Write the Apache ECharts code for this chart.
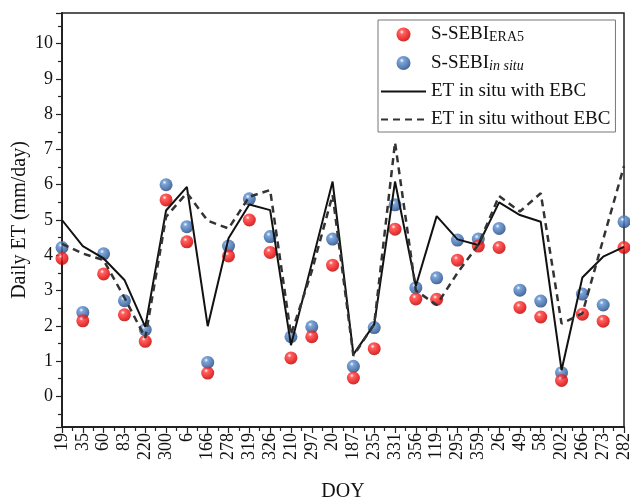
<!DOCTYPE html>
<html>
<head>
<meta charset="utf-8">
<script src="https://cdn.jsdelivr.net/npm/echarts@6/dist/echarts.min.js"></script>
<style>
  html, body { margin: 0; padding: 0; background: #fff; }
  #chart { width: 630px; height: 499px; }
</style>
</head>
<body>
<div id="chart"></div>
<script>
// DOY order as shown on the x axis
const doy = [19, 35, 60, 83, 220, 300, 6, 166, 278, 319, 326, 210, 297, 20,
  187, 235, 331, 356, 119, 295, 359, 26, 49, 58, 202, 266, 273, 282]

const sebiEra5 = [3.91, 2.14, 3.47, 2.31, 1.56, 5.57, 4.38, 0.66, 3.98, 5.0,
  4.08, 1.09, 1.69, 3.72, 0.52, 1.35, 4.74, 2.76, 2.75, 3.86, 4.26, 4.22,
  2.52, 2.25, 0.45, 2.33, 2.13, 4.22]
const sebiInSitu = [4.22, 2.38, 4.04, 2.71, 1.89, 6.0, 4.81, 0.96, 4.26, 5.6,
  4.53, 1.69, 1.97, 4.46, 0.85, 1.95, 5.43, 3.08, 3.36, 4.43, 4.46, 4.76,
  3.01, 2.7, 0.67, 2.9, 2.59, 4.95]
const etWithEbc = [5.0, 4.26, 3.91, 3.3, 1.97, 5.27, 5.94, 1.99, 4.48, 5.44,
  5.28, 1.45, 3.77, 6.09, 1.19, 2.04, 6.09, 3.13, 5.11, 4.45, 4.29, 5.5,
  5.14, 4.95, 0.74, 3.37, 3.96, 4.24]
const etWithoutEbc = [4.32, 4.05, 3.86, 2.8, 1.66, 5.09, 5.77, 4.98, 4.76,
  5.66, 5.85, 1.75, 3.55, 5.71, 1.15, 2.05, 7.2, 3.0, 2.59, 3.5, 4.3, 5.68,
  5.24, 5.76, 2.06, 2.35, 4.45, 6.53]

const serif = '"Liberation Serif", "Times New Roman", serif'

const pairs = arr => arr.map((v, i) => [i, v])

const ball = (c0, c1, c2) => ({
  type: 'radial', x: 0.38, y: 0.32, r: 0.7,
  colorStops: [
    { offset: 0, color: '#ffffff' },
    { offset: 0.22, color: c0 },
    { offset: 0.75, color: c1 },
    { offset: 1, color: c2 }
  ]
})

const names = {
  era5: 'S-SEBI ERA5',
  situ: 'S-SEBI in situ',
  ebc: 'ET in situ with EBC',
  noebc: 'ET in situ without EBC'
}

const chart = echarts.init(document.getElementById('chart'))

chart.setOption({
  backgroundColor: '#fff',
  animation: false,
  grid: {
    left: 62, right: 6, top: 13, bottom: 72,
    outerBoundsMode: 'none',
    show: true, borderColor: '#222', borderWidth: 1.5
  },
  legend: {
    orient: 'vertical',
    left: 378, top: 20,
    padding: [5, 5, 3, 2],
    itemWidth: 45, itemHeight: 14, itemGap: 9,
    borderColor: '#777', borderWidth: 1,
    data: [
      names.era5,
      names.situ,
      { name: names.ebc, itemStyle: { opacity: 0 } },
      { name: names.noebc, itemStyle: { opacity: 0 } }
    ],
    formatter: n => {
      if (n === names.era5) return '{a|S-SEBI}{s|ERA5}'
      if (n === names.situ) return '{a|S-SEBI}{i|in situ}'
      return '{a|' + n + '}'
    },
    textStyle: {
      fontFamily: serif, fontSize: 19, color: '#111',
      rich: {
        a: { fontFamily: serif, fontSize: 19, color: '#111' },
        s: { fontFamily: serif, fontSize: 14, color: '#111', verticalAlign: 'bottom', padding: [6, 0, 0, 0] },
        i: { fontFamily: serif, fontSize: 14, fontStyle: 'italic', color: '#111', verticalAlign: 'bottom', padding: [6, 0, 0, 0] }
      }
    }
  },
  xAxis: {
    type: 'value',
    min: 0, max: 27, interval: 1,
    name: 'DOY', nameLocation: 'middle', nameGap: 55,
    nameTextStyle: { fontFamily: serif, fontSize: 20, color: '#111' },
    axisLine: { onZero: false, lineStyle: { color: '#222', width: 2 } },
    axisTick: { length: 6, lineStyle: { color: '#222', width: 1.2 } },
    minorTick: { show: true, splitNumber: 2, length: 4, lineStyle: { color: '#222', width: 1.2 } },
    splitLine: { show: false },
    axisLabel: {
      rotate: 90, margin: 6,
      fontFamily: serif, fontSize: 18, color: '#111',
      formatter: v => doy[v] !== undefined ? String(doy[v]) : ''
    }
  },
  yAxis: {
    type: 'value',
    min: -0.87, max: 10.87, splitNumber: 12,
    name: 'Daily ET (mm/day)', nameLocation: 'middle', nameGap: 32,
    nameMoveOverlap: false,
    nameTextStyle: { fontFamily: serif, fontSize: 20, color: '#111' },
    axisLine: { show: true, lineStyle: { color: '#222', width: 2 } },
    axisTick: { show: true, length: 6, lineStyle: { color: '#222', width: 1.2 } },
    minorTick: { show: true, splitNumber: 2, length: 4, lineStyle: { color: '#222', width: 1.2 } },
    splitLine: { show: false },
    axisLabel: {
      showMinLabel: false, showMaxLabel: false, margin: 9,
      fontFamily: serif, fontSize: 18, color: '#111',
      formatter: v => Number.isInteger(v) ? String(v) : ''
    }
  },
  series: [
    {
      name: names.era5, type: 'scatter', z: 3,
      symbolSize: 13,
      itemStyle: { color: ball('#ff3a3a', '#e60000', '#a80000') },
      data: pairs(sebiEra5)
    },
    {
      name: names.situ, type: 'scatter', z: 2,
      symbolSize: 13,
      itemStyle: { color: ball('#5c8fd0', '#2d5d9f', '#1b3b6e') },
      data: pairs(sebiInSitu)
    },
    {
      name: names.ebc, type: 'line', z: 4,
      symbol: 'none',
      lineStyle: { color: '#111', width: 2 },
      itemStyle: { color: '#111' },
      data: pairs(etWithEbc)
    },
    {
      name: names.noebc, type: 'line', z: 4,
      symbol: 'none',
      lineStyle: { color: '#333', width: 2.5, type: [7, 5] },
      itemStyle: { color: '#333' },
      data: pairs(etWithoutEbc)
    }
  ]
})
</script>
</body>
</html>
